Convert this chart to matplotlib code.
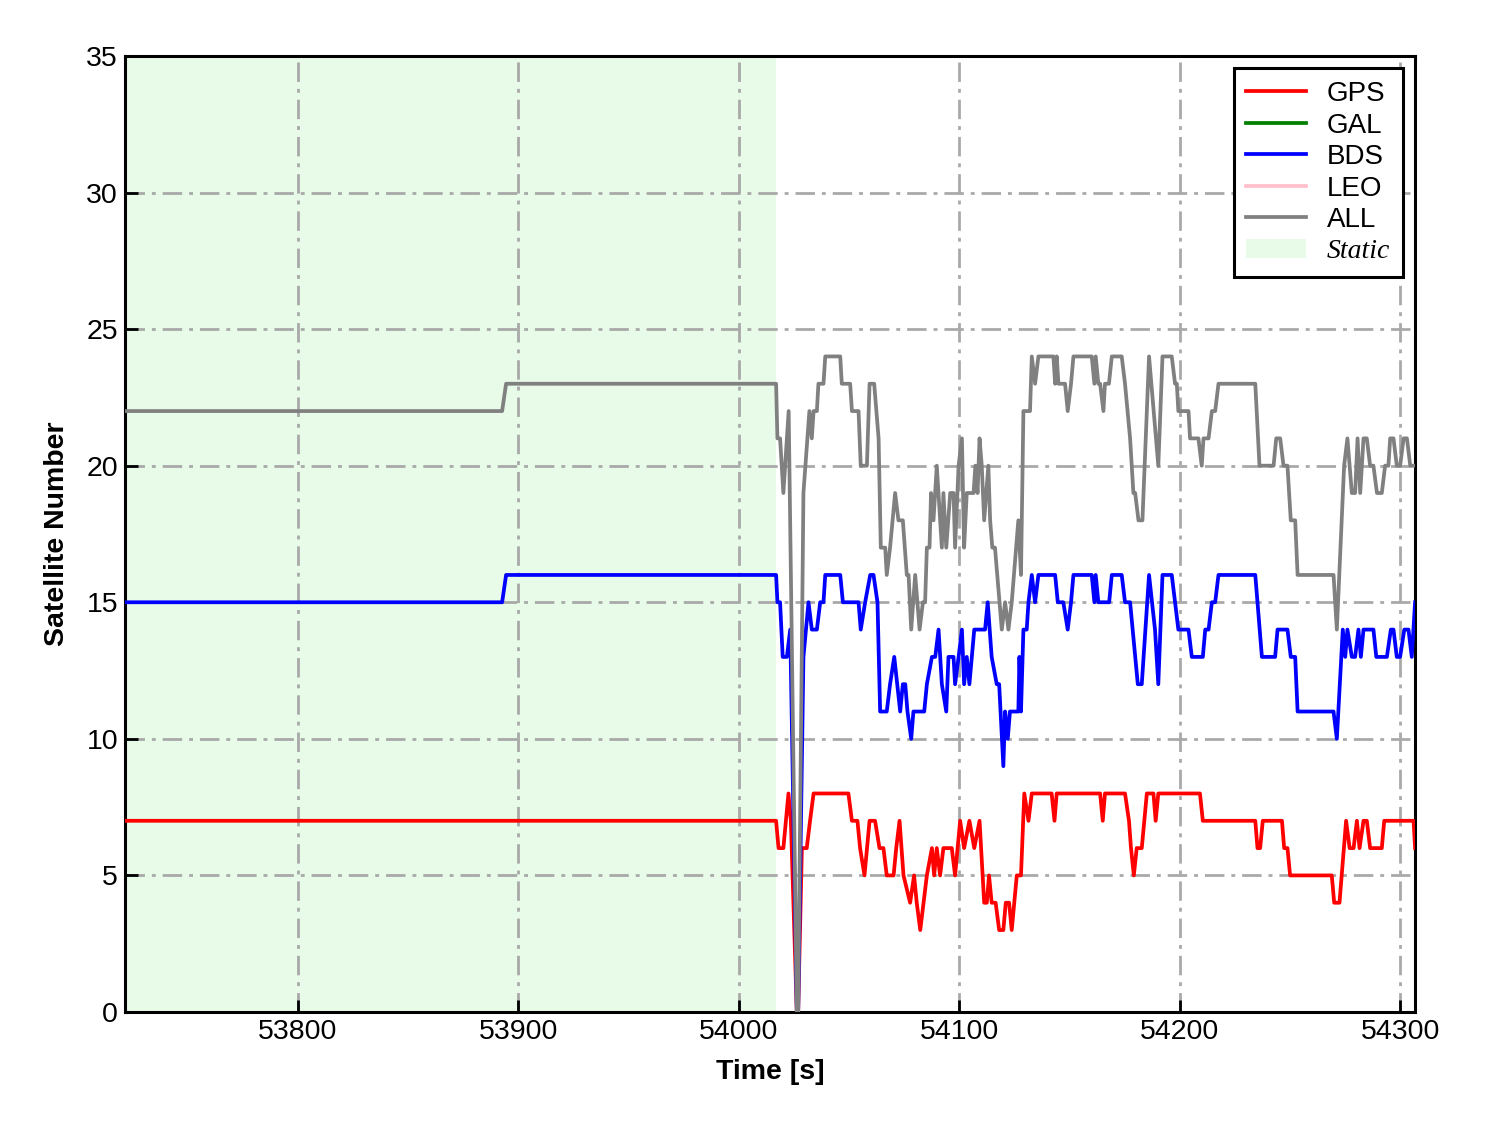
import matplotlib
matplotlib.use("Agg")
import matplotlib.pyplot as plt
from matplotlib.patches import Patch
from matplotlib.lines import Line2D

plt.rcParams['font.family'] = ['Liberation Sans', 'DejaVu Sans']

# ---------------- data (breakpoints: time [s], satellite count) ----------------
t_start = 53721.5
t_end = 54306.8
static_end = 54016.9

gps_t = [t_start, 54016.9, 54018.0, 54020.2, 54022.5, 54023.6, 54026.3, 54026.9, 54028.6, 54030.8,
         54032.3, 54033.9, 54049.7, 54051.3, 54053.8, 54055.0, 54057.0, 54059.3, 54061.8, 54063.8,
         54065.6, 54067.1, 54070.2, 54071.4, 54072.9, 54074.7, 54077.7, 54079.5, 54080.7, 54082.3,
         54083.8, 54085.3, 54087.6, 54088.6, 54089.8, 54091.3, 54092.8, 54096.6, 54098.1, 54100.4,
         54102.2, 54104.6, 54106.8, 54109.2, 54111.3, 54112.5, 54113.5, 54114.7, 54116.5, 54118.1,
         54120.0, 54121.1, 54122.6, 54123.8, 54126.1, 54128.0, 54129.5, 54131.4, 54132.9, 54141.9,
         54143.2, 54144.2, 54163.9, 54165.1, 54166.1, 54175.2, 54177.0, 54177.9, 54179.2, 54180.5,
         54182.8, 54185.1, 54188.1, 54189.1, 54190.3, 54209.2, 54210.5, 54234.3, 54235.3, 54236.5,
         54237.7, 54246.4, 54247.4, 54248.9, 54250.1, 54269.0, 54270.1, 54272.5, 54275.5, 54277.1,
         54278.9, 54280.4, 54281.6, 54283.4, 54284.9, 54286.4, 54291.7, 54292.8, 54306.1, 54306.8]
gps_v = [7, 7, 6, 6, 8, 7, 0, 0, 6, 6,
         7, 8, 8, 7, 7, 6, 5, 7, 7, 6,
         6, 5, 5, 6, 7, 5, 4, 5, 4, 3,
         4, 5, 6, 5, 6, 5, 6, 6, 5, 7,
         6, 7, 6, 7, 4, 4, 5, 4, 4, 3,
         3, 4, 4, 3, 5, 5, 8, 7, 8, 8,
         7, 8, 8, 7, 8, 8, 7, 6, 5, 6,
         6, 8, 8, 7, 8, 8, 7, 7, 6, 6,
         7, 7, 6, 6, 5, 5, 4, 4, 7, 6,
         6, 7, 6, 7, 7, 6, 6, 7, 7, 6]

gal_t = []
gal_v = []

bds_t = [t_start, 53892.6, 53894.4, 54016.9, 54017.5, 54018.7, 54019.9, 54021.8, 54023.3, 54026.3,
         54026.9, 54029.3, 54031.6, 54033.1, 54035.4, 54036.9, 54038.4, 54039.2, 54046.0, 54047.2,
         54054.3, 54055.3, 54057.3, 54059.6, 54061.1, 54062.9, 54064.1, 54067.1, 54068.6, 54070.5,
         54073.2, 54074.4, 54075.5, 54076.5, 54078.2, 54079.2, 54084.1, 54085.3, 54087.6, 54089.1,
         54090.6, 54092.1, 54094.1, 54095.1, 54097.4, 54098.1, 54099.7, 54101.2, 54102.2, 54103.4,
         54104.6, 54106.8, 54111.7, 54112.9, 54114.7, 54117.0, 54118.1, 54120.0, 54120.8, 54122.0,
         54123.0, 54126.8, 54127.3, 54128.0, 54129.1, 54130.6, 54131.4, 54132.9, 54134.4, 54135.9,
         54143.5, 54144.7, 54147.2, 54149.2, 54150.7, 54151.8, 54160.1, 54161.3, 54161.9, 54163.1,
         54168.0, 54169.2, 54173.7, 54175.2, 54177.5, 54181.0, 54182.8, 54186.1, 54188.8, 54190.3,
         54192.2, 54196.4, 54197.9, 54199.4, 54204.0, 54205.5, 54210.5, 54211.6, 54213.1, 54214.6,
         54216.1, 54217.6, 54234.3, 54237.3, 54243.3, 54244.4, 54248.9, 54250.4, 54252.4, 54253.5,
         54269.8, 54271.3, 54274.0, 54275.1, 54276.1, 54278.1, 54279.6, 54281.1, 54282.2, 54283.4,
         54287.9, 54289.2, 54294.0, 54295.8, 54297.0, 54298.5, 54300.0, 54301.9, 54303.8, 54305.3,
         54306.8]
bds_v = [15, 15, 16, 16, 15, 15, 13, 13, 14, 0,
         0, 13, 15, 14, 14, 15, 15, 16, 16, 15,
         15, 14, 15, 16, 16, 15, 11, 11, 12, 13,
         11, 12, 12, 11, 10, 11, 11, 12, 13, 13,
         14, 12, 11, 13, 13, 12, 13, 14, 12, 13,
         12, 14, 14, 15, 13, 12, 12, 9, 11, 10,
         11, 11, 13, 11, 14, 14, 15, 16, 15, 16,
         16, 15, 15, 14, 15, 16, 16, 15, 16, 15,
         15, 16, 16, 15, 15, 12, 12, 16, 14, 12,
         16, 16, 15, 14, 14, 13, 13, 14, 14, 15,
         15, 16, 16, 13, 13, 14, 14, 13, 13, 11,
         11, 10, 14, 13, 14, 13, 13, 14, 13, 14,
         14, 13, 13, 14, 14, 13, 13, 14, 14, 13,
         15]

leo_t = []
leo_v = []

all_t = [t_start, 53892.6, 53894.4, 54016.9, 54017.5, 54018.7, 54020.2, 54022.6, 54026.3, 54026.9,
         54029.3, 54032.0, 54033.1, 54033.9, 54035.4, 54036.1, 54038.4, 54039.2, 54046.0, 54046.7,
         54050.5, 54051.3, 54054.3, 54055.3, 54058.1, 54059.3, 54061.4, 54063.4, 54064.4, 54066.4,
         54067.1, 54068.6, 54070.9, 54072.4, 54074.4, 54076.2, 54077.0, 54078.2, 54080.0, 54082.0,
         54083.5, 54084.5, 54085.3, 54086.5, 54087.2, 54088.3, 54089.8, 54092.1, 54092.8, 54094.1,
         54095.9, 54097.4, 54098.1, 54099.7, 54101.2, 54102.2, 54103.4, 54106.5, 54107.3, 54108.3,
         54109.2, 54110.2, 54111.3, 54113.2, 54114.0, 54115.0, 54116.2, 54119.3, 54120.8, 54122.3,
         54123.8, 54126.8, 54128.0, 54129.1, 54132.1, 54132.9, 54134.4, 54135.9, 54142.7, 54143.5,
         54144.2, 54145.0, 54148.0, 54149.2, 54150.7, 54151.8, 54160.1, 54161.3, 54161.9, 54163.1,
         54163.9, 54165.4, 54166.1, 54167.9, 54169.2, 54173.7, 54175.2, 54177.5, 54179.0, 54179.8,
         54181.3, 54183.1, 54186.1, 54190.3, 54192.2, 54196.4, 54197.9, 54198.7, 54199.4, 54204.0,
         54204.7, 54208.5, 54210.0, 54210.8, 54213.1, 54214.6, 54216.1, 54217.6, 54234.3, 54236.2,
         54242.6, 54243.8, 54245.6, 54247.1, 54248.9, 54250.4, 54252.4, 54253.5, 54269.8, 54271.3,
         54274.6, 54276.1, 54278.1, 54279.6, 54280.7, 54281.9, 54283.4, 54284.9, 54286.4, 54287.9,
         54289.5, 54291.7, 54293.2, 54294.7, 54295.5, 54297.0, 54298.5, 54300.0, 54301.6, 54303.1,
         54304.6, 54306.8]
all_v = [22, 22, 23, 23, 21, 21, 19, 22, 0, 0,
         19, 22, 21, 22, 22, 23, 23, 24, 24, 23,
         23, 22, 22, 20, 20, 23, 23, 21, 17, 17,
         16, 17, 19, 18, 18, 16, 16, 14, 16, 14,
         15, 15, 17, 17, 19, 18, 20, 17, 19, 17,
         19, 19, 17, 20, 21, 17, 19, 19, 20, 19,
         21, 20, 18, 20, 18, 17, 17, 14, 15, 14,
         15, 18, 16, 22, 22, 24, 23, 24, 24, 23,
         24, 23, 23, 22, 23, 24, 24, 23, 24, 23,
         23, 22, 23, 23, 24, 24, 23, 21, 19, 19,
         18, 18, 24, 20, 24, 24, 23, 23, 22, 22,
         21, 21, 20, 21, 21, 22, 22, 23, 23, 20,
         20, 21, 21, 20, 20, 18, 18, 16, 16, 14,
         20, 21, 19, 19, 21, 19, 21, 21, 20, 20,
         19, 19, 20, 20, 21, 21, 20, 20, 21, 21,
         20, 20]

x_ticks = [53800, 53900, 54000, 54100, 54200, 54300]
y_ticks = [0, 5, 10, 15, 20, 25, 30, 35]

# ---------------- figure ----------------
fig = plt.figure(figsize=(14.88, 11.33), dpi=100)
ax = fig.add_axes([0.084, 0.1068, 0.867, 0.8438])

ax.axvspan(t_start, static_end, color='lightgreen', alpha=0.2, lw=0, zorder=0)

lw = 2.7
ax.plot(gps_t, gps_v, color='red', lw=lw, zorder=3)
ax.plot(gal_t, gal_v, color='green', lw=lw, zorder=3)
ax.plot(bds_t, bds_v, color='blue', lw=lw, zorder=3)
ax.plot(leo_t, leo_v, color='pink', lw=lw, zorder=3)
ax.plot(all_t, all_v, color='gray', lw=lw, zorder=3)

ax.set_xlim(t_start, t_end)
ax.set_ylim(0, 35)
ax.set_xticks(x_ticks)
ax.set_yticks(y_ticks)
ax.grid(True, color='darkgray', linestyle=(0, (7, 2.5, 1.4, 2.5)), lw=2.0, zorder=1)
ax.set_axisbelow(True)

ax.tick_params(direction='in', length=9, width=2, labelsize=20.5, pad=5)
for s in ax.spines.values():
    s.set_linewidth(2.2)
    s.set_color('black')

ax.set_xlabel('Time [s]', fontsize=20.5, fontweight='bold', labelpad=10)
ax.set_ylabel('Satellite Number', fontsize=20.5, fontweight='bold', labelpad=12)

handles = [Line2D([0], [0], color='red', lw=lw),
           Line2D([0], [0], color='green', lw=lw),
           Line2D([0], [0], color='blue', lw=lw),
           Line2D([0], [0], color='pink', lw=lw),
           Line2D([0], [0], color='gray', lw=lw),
           Patch(facecolor='lightgreen', alpha=0.2, edgecolor='none')]
labels = ['GPS', 'GAL', 'BDS', 'LEO', 'ALL', 'Static']
leg = ax.legend(handles, labels, loc='upper right', fontsize=20, frameon=True,
                fancybox=False, edgecolor='black', framealpha=1,
                handlelength=2.15, handletextpad=0.75, borderpad=0.45,
                labelspacing=0.2, borderaxespad=0.45)
leg.get_frame().set_linewidth(2.2)
for txt in leg.get_texts():
    if txt.get_text() == 'Static':
        txt.set_fontfamily(['Liberation Serif', 'DejaVu Serif'])
        txt.set_fontstyle('italic')

fig.savefig('out.png', dpi=100)
